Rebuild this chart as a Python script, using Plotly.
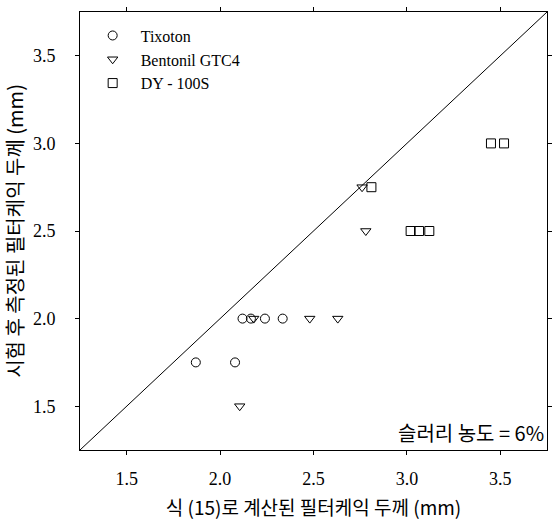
import plotly.graph_objects as go

# Data
tix_x = [1.87, 2.08, 2.12, 2.165, 2.24, 2.335]
tix_y = [1.75, 1.75, 2.0, 2.0, 2.0, 2.0]
ben_x = [2.105, 2.18, 2.48, 2.63, 2.76, 2.78]
ben_y = [1.5, 2.0, 2.0, 2.0, 2.75, 2.5]
dy_x = [2.81, 3.02, 3.065, 3.12, 3.45, 3.52]
dy_y = [2.75, 2.5, 2.5, 2.5, 3.0, 3.0]
line_x = [1.25, 3.75]
line_y = [1.25, 3.75]
tick_vals = [1.5, 2.0, 2.5, 3.0, 3.5]
tick_text = ["1.5", "2.0", "2.5", "3.0", "3.5"]

serif = "Liberation Serif"
kr = "Noto Sans CJK KR"

fig = go.Figure()
mk = dict(size=9, color="black", line=dict(color="black", width=1))
fig.add_trace(go.Scatter(x=line_x, y=line_y, mode="lines", line=dict(color="black", width=1),
                         showlegend=False, hoverinfo="skip"))
fig.add_trace(go.Scatter(x=tix_x, y=tix_y, mode="markers", name="Tixoton",
                         marker=dict(symbol="circle-open", **mk)))
fig.add_trace(go.Scatter(x=ben_x, y=ben_y, mode="markers", name="Bentonil GTC4",
                         marker=dict(symbol="triangle-down-open", **mk)))
fig.add_trace(go.Scatter(x=dy_x, y=dy_y, mode="markers", name="DY - 100S",
                         marker=dict(symbol="square-open", **mk)))

axis_common = dict(
    showgrid=False, zeroline=False, showline=True, linecolor="black", linewidth=1,
    mirror="ticks", ticks="outside", ticklen=4, tickcolor="black", tickwidth=1,
    tickvals=tick_vals, ticktext=tick_text,
    tickfont=dict(family=serif, size=18, color="black"),
)
fig.update_xaxes(range=[1.25, 3.75], ticklabelstandoff=8,
                 title=dict(text="식 (15)로 계산된 필터케익 두께 (mm)",
                            font=dict(family=kr, size=19, color="black"), standoff=14),
                 **axis_common)
fig.update_yaxes(range=[1.25, 3.75], ticklabelstandoff=16,
                 title=dict(text="시험 후 측정된 필터케익 두께 (mm)",
                            font=dict(family=kr, size=20, color="black"), standoff=6),
                 **axis_common)

fig.add_annotation(text="슬러리 농도 = 6%", xref="paper", yref="paper", x=0.998, y=0.04,
                   xanchor="right", yanchor="middle", showarrow=False,
                   font=dict(family=kr, size=20, color="black"))

fig.update_layout(
    width=556, height=524,
    margin=dict(l=80, r=4, t=12, b=74),
    plot_bgcolor="white", paper_bgcolor="white",
    legend=dict(x=0.01, y=0.985, xanchor="left", yanchor="top",
                font=dict(family=serif, size=16, color="black"),
                bgcolor="rgba(0,0,0,0)", itemwidth=46, tracegroupgap=0),
)

fig.write_html("out.html")
